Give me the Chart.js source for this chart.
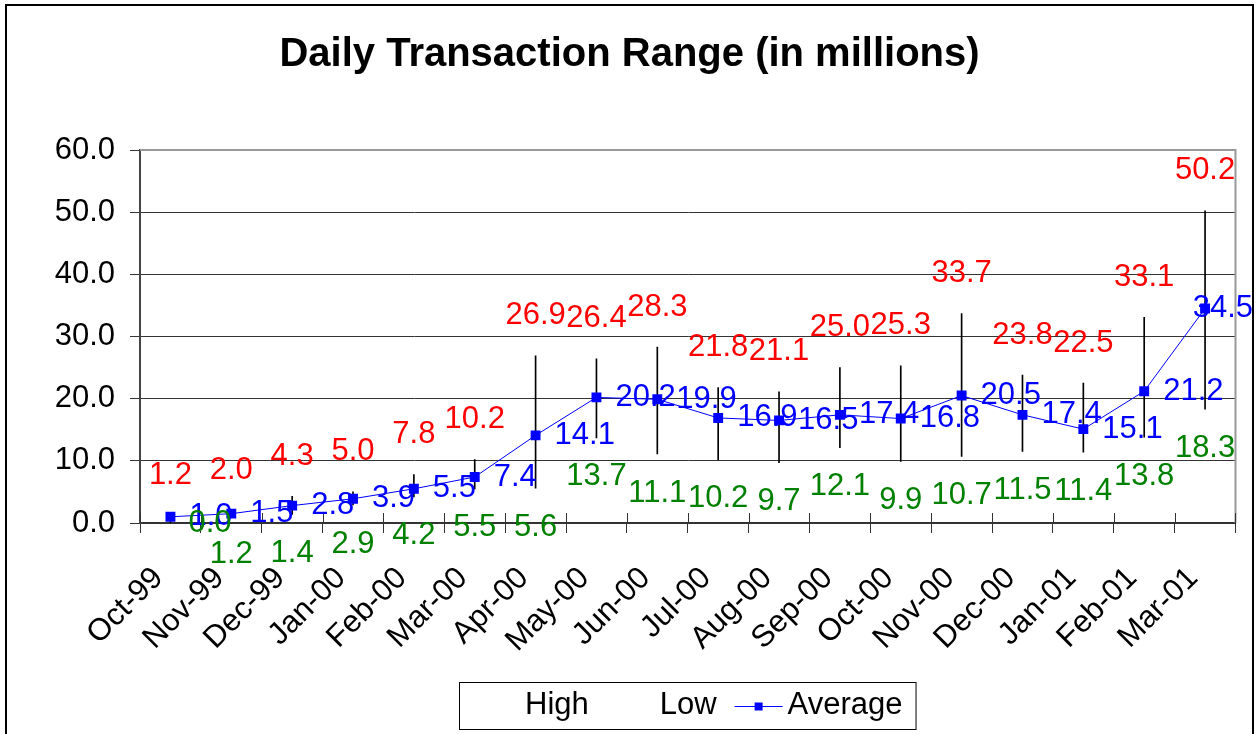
<!DOCTYPE html>
<html>
<head>
<meta charset="utf-8">
<title>Daily Transaction Range</title>
<script src="https://cdn.jsdelivr.net/npm/chart.js@4.4.1/dist/chart.umd.min.js"></script>
<style>
  html, body { margin: 0; padding: 0; background: #fff; }
  canvas { display: block; }
</style>
</head>
<body>
<canvas id="mycanvas" width="1259" height="734"></canvas>
<script>
var months = ['Oct-99', 'Nov-99', 'Dec-99', 'Jan-00', 'Feb-00', 'Mar-00', 'Apr-00', 'May-00', 'Jun-00',
              'Jul-00', 'Aug-00', 'Sep-00', 'Oct-00', 'Nov-00', 'Dec-00', 'Jan-01', 'Feb-01', 'Mar-01'];
var highValues = [1.2, 2.0, 4.3, 5.0, 7.8, 10.2, 26.9, 26.4, 28.3, 21.8, 21.1, 25.0, 25.3, 33.7, 23.8, 22.5, 33.1, 50.2];
var lowValues = [0.0, 1.2, 1.4, 2.9, 4.2, 5.5, 5.6, 13.7, 11.1, 10.2, 9.7, 12.1, 9.9, 10.7, 11.5, 11.4, 13.8, 18.3];
var averageValues = [1.0, 1.5, 2.8, 3.9, 5.5, 7.4, 14.1, 20.2, 19.9, 16.9, 16.5, 17.4, 16.8, 20.5, 17.4, 15.1, 21.2, 34.5];
var yTickValues = [0, 10, 20, 30, 40, 50, 60];

var FONT = '"Liberation Sans", Arial, sans-serif';

// value labels, frame, inner tick marks and the boxed legend
var decorations = {
  id: 'decorations',
  beforeDraw: function(chart) {
    var ctx = chart.ctx;
    ctx.save();
    ctx.fillStyle = '#fff';
    ctx.fillRect(0, 0, chart.width, chart.height);
    ctx.strokeStyle = '#000';
    ctx.lineWidth = 2;
    ctx.strokeRect(6, 5, chart.width - 12, chart.height + 20);
    ctx.restore();
  },
  beforeDatasetsDraw: function(chart) {
    var ctx = chart.ctx, a = chart.chartArea, x = chart.scales.x;
    ctx.save();
    ctx.strokeStyle = '#999';
    ctx.lineWidth = 2;
    ctx.beginPath();
    ctx.moveTo(a.left, a.top);
    ctx.lineTo(a.right, a.top);
    ctx.lineTo(a.right, a.bottom);
    ctx.stroke();
    // ticks on the category axis cross it
    ctx.strokeStyle = '#333';
    ctx.lineWidth = 1;
    var step = (x.right - x.left) / months.length;
    for (var k = 0; k <= months.length; k++) {
      var bx = Math.round(x.left + k * step) + 0.5;
      ctx.beginPath();
      ctx.moveTo(bx, a.bottom - 10);
      ctx.lineTo(bx, a.bottom);
      ctx.stroke();
    }
    ctx.restore();
  },
  afterDatasetsDraw: function(chart) {
    var ctx = chart.ctx, x = chart.scales.x, y = chart.scales.y;
    ctx.save();
    ctx.font = '31px ' + FONT;
    ctx.textBaseline = 'middle';
    for (var i = 0; i < months.length; i++) {
      var px = x.getPixelForValue(i);
      // average: to the right of the point
      var txt = averageValues[i].toFixed(1);
      var w = ctx.measureText(txt).width;
      var lx = Math.min(px + 19, chart.width - 6 - w);
      ctx.fillStyle = '#0000ff';
      ctx.textAlign = 'left';
      ctx.fillText(txt, lx, y.getPixelForValue(averageValues[i]));
      // high: above
      ctx.fillStyle = '#ff0000';
      ctx.textAlign = 'center';
      ctx.fillText(highValues[i].toFixed(1), px, y.getPixelForValue(highValues[i]) - 40);
      // low: below (a zero sits to the right)
      ctx.fillStyle = '#008000';
      if (lowValues[i] === 0) {
        ctx.textAlign = 'left';
        ctx.fillText(lowValues[i].toFixed(1), px + 18, y.getPixelForValue(lowValues[i]));
      } else {
        ctx.fillText(lowValues[i].toFixed(1), px, y.getPixelForValue(lowValues[i]) + 39);
      }
    }
    ctx.restore();
  },
  afterDraw: function(chart) {
    var ctx = chart.ctx, a = chart.chartArea;
    var items = ['High', 'Low', 'Average'];
    var symW = 48, gap = 5, space = 18, pad = 13, boxH = 47;
    ctx.save();
    ctx.font = '31px ' + FONT;
    var total = pad * 2 + space * (items.length - 1);
    var widths = items.map(function(t) { return ctx.measureText(t).width; });
    widths.forEach(function(w) { total += symW + gap + w; });
    var left = Math.round((a.left + a.right) / 2 - total / 2);
    var top = chart.height - 52;
    ctx.strokeStyle = '#000';
    ctx.lineWidth = 1;
    ctx.strokeRect(left + 0.5, top + 0.5, total, boxH);
    var cx = left + pad, cy = top + boxH / 2;
    ctx.textBaseline = 'middle';
    ctx.textAlign = 'left';
    items.forEach(function(t, i) {
      if (t === 'Average') {
        ctx.strokeStyle = '#0000ff';
        ctx.beginPath();
        ctx.moveTo(cx, Math.round(cy) + 0.5);
        ctx.lineTo(cx + symW, Math.round(cy) + 0.5);
        ctx.stroke();
        ctx.fillStyle = '#0000ff';
        ctx.fillRect(cx + symW / 2 - 4, Math.round(cy) - 3.5, 8, 8);
      }
      ctx.fillStyle = '#000';
      ctx.fillText(t, cx + symW + gap, cy);
      cx += symW + gap + widths[i] + space;
    });
    ctx.restore();
  }
};

var ctx = document.getElementById('mycanvas');

var chart = new Chart(ctx, {
  data: {
    labels: months,
    datasets: [
      {
        type: 'line',
        label: 'Average',
        data: averageValues,
        borderColor: '#0000ff',
        backgroundColor: '#0000ff',
        borderWidth: 1,
        tension: 0,
        pointStyle: 'rect',
        pointRadius: 7,
        pointBorderWidth: 0,
        pointBackgroundColor: '#0000ff',
        order: 0
      },
      {
        type: 'bar',
        label: 'High-Low',
        data: lowValues.map(function(v, i) { return [v, highValues[i]]; }),
        backgroundColor: '#000',
        borderWidth: 0,
        barThickness: 1,
        order: 1
      }
    ]
  },
  options: {
    responsive: false,
    animation: false,
    events: [],
    layout: { padding: { left: 0, right: 0, top: 0, bottom: 61 } },
    plugins: {
      legend: { display: false },
      tooltip: { enabled: false },
      title: {
        display: true,
        text: 'Daily Transaction Range (in millions)',
        color: '#000',
        font: { family: FONT, size: 40, weight: 'bold' },
        padding: { top: 31, bottom: 71 }
      }
    },
    scales: {
      x: {
        offset: true,
        afterFit: function(s) { s.height = 150; },
        ticks: {
          color: '#000',
          font: { family: FONT, size: 31 },
          minRotation: 45,
          maxRotation: 45,
          autoSkip: false,
          padding: 27,
          labelOffset: -12
        },
        grid: { offset: true, drawOnChartArea: false, color: '#333', tickLength: 10 },
        border: { color: '#333', width: 2 }
      },
      y: {
        min: 0,
        max: 60,
        afterBuildTicks: function(s) { s.ticks = yTickValues.map(function(v) { return { value: v }; }); },
        afterFit: function(s) { s.width = 140; },
        ticks: {
          color: '#000',
          font: { family: FONT, size: 31 },
          padding: 15,
          callback: function(v) { return Number(v).toFixed(1); }
        },
        grid: { color: '#333', lineWidth: 1, tickLength: 10 },
        border: { color: '#444', width: 2 }
      },
      // empty right-hand strip so the plot area stops short of the frame
      yRight: {
        position: 'right',
        display: true,
        afterFit: function(s) { s.width = 23; },
        ticks: { display: false },
        grid: { display: false, drawTicks: false },
        border: { display: false }
      }
    }
  },
  plugins: [decorations]
});
</script>
</body>
</html>
